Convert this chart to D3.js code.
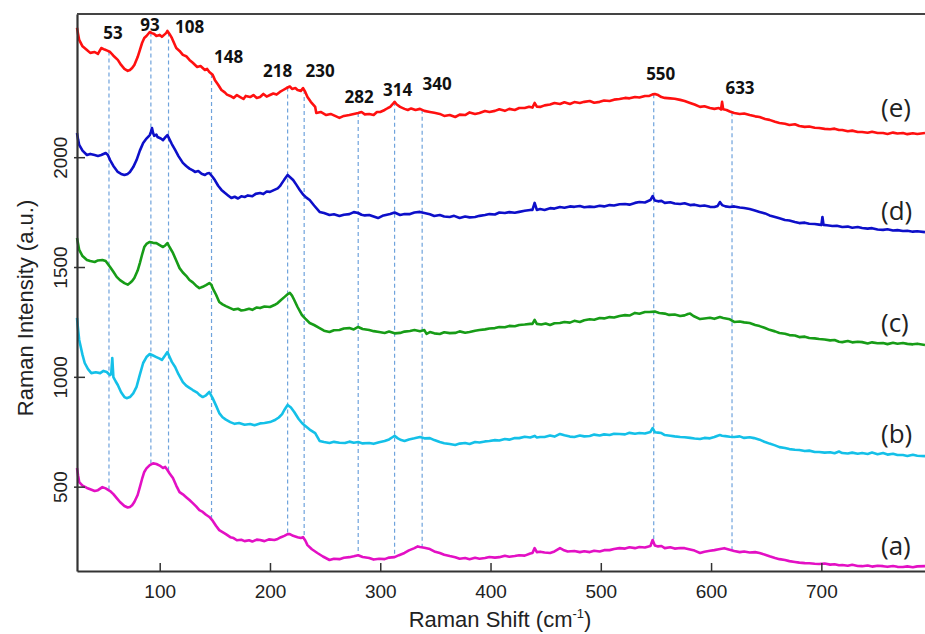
<!DOCTYPE html>
<html>
<head>
<meta charset="utf-8">
<script src="https://cdn.jsdelivr.net/npm/d3@7"></script>
<style>
  body { margin: 0; background: #fff; }
  svg { display: block; }
</style>
</head>
<body>
<svg width="925" height="634"></svg>
<script>
// spectra: [Raman shift (cm-1), intensity (a.u.)]
const spectrumE = [[25,2589],[26,2560],[27,2534],[30,2505],[34,2488],[37,2475],[41,2479],[44,2470],[47,2497],[50,2490],[53,2484],[55,2479],[58,2462],[62,2443],[65,2420],[68,2402],[71,2393],[73,2397],[75,2406],[77,2420],[80,2456],[82,2488],[84,2520],[86,2543],[88,2552],[91,2570],[93,2565],[95,2561],[97,2552],[100,2557],[102,2548],[104,2557],[106,2566],[107,2575],[109,2560],[111,2543],[113,2520],[115,2497],[118,2484],[121,2466],[124,2460],[127,2443],[130,2430],[134,2411],[137,2415],[141,2397],[143,2402],[145,2388],[148,2375],[150,2352],[153,2330],[156,2306],[159,2295],[161,2285],[164,2279],[167,2270],[170,2283],[173,2274],[176,2265],[178,2279],[182,2274],[185,2283],[188,2270],[191,2274],[194,2288],[197,2276],[200,2283],[203,2290],[206,2285],[209,2297],[212,2306],[215,2315],[218,2322],[220,2311],[223,2315],[225,2306],[228,2302],[230,2315],[232,2297],[234,2274],[237,2252],[241,2229],[242,2201],[246,2206],[251,2192],[255,2197],[259,2188],[263,2179],[267,2188],[272,2192],[276,2197],[280,2201],[283,2206],[286,2195],[290,2197],[294,2192],[297,2206],[300,2206],[304,2215],[307,2224],[309,2229],[311,2240],[313,2252],[315,2240],[318,2229],[322,2220],[325,2215],[328,2222],[332,2215],[336,2220],[340,2211],[345,2206],[349,2202],[354,2197],[358,2188],[363,2192],[368,2183],[372,2194],[377,2192],[381,2204],[386,2197],[390,2201],[395,2210],[399,2206],[404,2211],[408,2218],[413,2211],[417,2220],[422,2215],[426,2224],[431,2224],[435,2230],[438,2226],[440,2247],[442,2230],[445,2229],[449,2236],[454,2240],[458,2247],[463,2242],[467,2250],[472,2242],[476,2251],[481,2247],[485,2252],[490,2256],[494,2248],[499,2252],[503,2258],[508,2256],[512,2262],[517,2265],[522,2270],[526,2268],[531,2274],[535,2272],[540,2279],[544,2279],[547,2286],[549,2288],[552,2283],[555,2274],[558,2270],[563,2268],[567,2266],[572,2261],[576,2256],[581,2247],[585,2240],[590,2229],[594,2232],[599,2224],[603,2220],[607,2224],[609,2217],[610,2252],[611,2218],[614,2215],[617,2208],[621,2201],[626,2197],[630,2199],[635,2192],[640,2186],[644,2183],[649,2174],[653,2170],[658,2161],[662,2156],[667,2152],[671,2147],[676,2150],[680,2142],[685,2138],[689,2140],[694,2134],[698,2133],[703,2129],[708,2127],[712,2130],[716,2124],[719,2124],[724,2118],[728,2121],[733,2115],[737,2115],[742,2111],[746,2116],[751,2110],[756,2110],[760,2106],[765,2112],[769,2108],[774,2110],[778,2105],[783,2109],[787,2106],[794,2110]];

const spectrumD = [[25,2110],[26,2080],[27,2056],[30,2030],[34,2010],[37,2015],[41,2010],[44,2006],[47,2010],[51,2019],[53,2010],[55,1987],[58,1960],[62,1933],[65,1924],[68,1919],[71,1924],[73,1933],[76,1955],[79,1987],[82,2030],[85,2065],[88,2085],[91,2101],[92,2115],[93,2133],[94,2110],[95,2097],[97,2103],[98,2092],[101,2085],[103,2078],[105,2090],[107,2101],[109,2080],[111,2060],[114,2033],[117,2005],[121,1974],[124,1960],[127,1948],[130,1940],[132,1933],[135,1937],[138,1925],[141,1919],[143,1926],[145,1928],[148,1910],[150,1896],[153,1870],[156,1851],[159,1838],[162,1826],[165,1814],[168,1820],[171,1812],[174,1822],[177,1819],[180,1826],[184,1822],[187,1833],[191,1837],[194,1832],[197,1844],[200,1842],[204,1851],[207,1858],[209,1868],[211,1883],[213,1898],[216,1919],[218,1910],[221,1896],[224,1874],[227,1851],[230,1830],[233,1816],[236,1805],[240,1780],[245,1751],[249,1746],[254,1737],[258,1740],[263,1732],[267,1738],[272,1741],[276,1750],[280,1746],[283,1738],[286,1735],[290,1737],[294,1730],[298,1723],[302,1733],[306,1738],[309,1741],[313,1748],[318,1737],[322,1741],[327,1741],[331,1748],[336,1751],[340,1746],[345,1740],[349,1732],[354,1737],[358,1730],[363,1728],[367,1733],[372,1723],[377,1730],[381,1726],[386,1728],[390,1733],[395,1737],[399,1741],[404,1739],[408,1748],[413,1746],[417,1750],[422,1747],[426,1751],[431,1756],[436,1760],[438,1760],[440,1792],[442,1760],[445,1764],[449,1760],[454,1768],[458,1766],[463,1773],[467,1770],[472,1776],[476,1774],[481,1778],[485,1772],[490,1775],[494,1773],[499,1779],[503,1776],[508,1782],[512,1780],[517,1786],[522,1787],[526,1784],[531,1792],[535,1796],[540,1794],[545,1805],[547,1823],[549,1803],[552,1799],[555,1801],[558,1792],[563,1795],[567,1789],[572,1787],[576,1790],[581,1782],[585,1784],[590,1778],[594,1780],[599,1774],[603,1773],[606,1778],[608,1796],[610,1782],[613,1776],[617,1773],[621,1776],[626,1771],[630,1769],[635,1764],[639,1758],[644,1751],[649,1744],[653,1735],[658,1728],[662,1722],[667,1714],[671,1712],[676,1705],[680,1700],[685,1702],[689,1697],[694,1696],[698,1693],[700,1691],[701,1728],[702,1692],[705,1690],[710,1687],[714,1688],[719,1682],[724,1684],[728,1679],[733,1682],[737,1678],[742,1675],[746,1677],[751,1671],[756,1669],[760,1672],[765,1666],[769,1668],[774,1664],[778,1665],[783,1661],[787,1663],[794,1659]];

const spectrumC = [[25,1632],[26,1605],[27,1578],[30,1550],[34,1532],[37,1527],[41,1523],[44,1530],[48,1532],[51,1527],[55,1500],[58,1478],[61,1455],[64,1440],[68,1427],[71,1420],[73,1427],[75,1436],[77,1450],[80,1484],[82,1518],[84,1556],[86,1591],[88,1605],[91,1614],[94,1610],[97,1609],[100,1600],[103,1591],[105,1598],[107,1609],[109,1590],[112,1564],[115,1530],[118,1495],[121,1475],[124,1460],[127,1441],[130,1430],[133,1415],[136,1404],[139,1410],[142,1418],[145,1427],[147,1418],[148,1404],[151,1375],[154,1341],[157,1330],[160,1322],[164,1313],[167,1306],[171,1310],[174,1302],[177,1304],[181,1310],[184,1305],[188,1316],[191,1313],[195,1320],[200,1318],[204,1327],[207,1336],[210,1350],[213,1363],[216,1376],[218,1382],[220,1370],[222,1350],[225,1318],[229,1281],[232,1265],[236,1245],[240,1236],[245,1222],[249,1210],[254,1204],[258,1212],[263,1213],[267,1220],[272,1222],[276,1216],[280,1227],[284,1218],[290,1213],[294,1208],[299,1204],[304,1200],[308,1206],[313,1198],[318,1200],[322,1206],[327,1209],[331,1213],[336,1208],[340,1213],[342,1196],[345,1204],[349,1198],[354,1195],[358,1203],[363,1199],[368,1200],[372,1207],[377,1201],[381,1204],[386,1210],[390,1213],[395,1216],[399,1220],[404,1222],[408,1227],[413,1226],[417,1232],[422,1230],[426,1236],[431,1238],[436,1241],[438,1241],[440,1259],[442,1241],[446,1238],[450,1243],[454,1236],[458,1244],[463,1245],[467,1250],[472,1247],[476,1255],[481,1250],[485,1258],[490,1262],[494,1260],[499,1268],[503,1266],[508,1272],[512,1270],[517,1277],[522,1281],[526,1279],[531,1291],[535,1287],[540,1295],[544,1295],[549,1297],[553,1291],[558,1288],[562,1282],[567,1284],[572,1277],[576,1280],[579,1286],[581,1288],[584,1277],[590,1263],[594,1266],[599,1269],[603,1264],[608,1272],[611,1268],[617,1262],[621,1250],[626,1252],[630,1248],[635,1245],[640,1236],[644,1231],[649,1222],[653,1214],[658,1207],[662,1200],[667,1196],[671,1190],[676,1188],[680,1181],[685,1183],[689,1177],[694,1175],[698,1172],[703,1170],[708,1166],[712,1168],[716,1160],[719,1158],[724,1163],[728,1157],[733,1160],[737,1158],[742,1152],[746,1157],[751,1153],[756,1154],[760,1149],[765,1155],[769,1151],[774,1154],[778,1150],[783,1148],[787,1151],[794,1145]];

const spectrumB = [[25,1268],[26,1215],[27,1168],[30,1100],[32,1063],[35,1035],[38,1017],[42,1021],[46,1017],[49,1027],[52,1022],[54,1012],[55,1008],[56,1013],[57,1086],[58,999],[60,980],[62,963],[65,930],[68,908],[70,903],[73,908],[76,925],[79,954],[82,1010],[85,1063],[88,1090],[91,1104],[94,1097],[97,1090],[100,1083],[102,1077],[105,1098],[107,1113],[109,1090],[111,1068],[114,1045],[117,1012],[121,976],[124,960],[127,950],[130,940],[134,928],[136,918],[139,908],[142,916],[145,931],[147,912],[148,903],[151,870],[154,835],[157,816],[160,805],[164,794],[168,786],[172,790],[177,782],[182,785],[186,780],[191,788],[195,790],[200,794],[204,802],[208,815],[211,830],[213,849],[216,872],[219,860],[222,840],[226,808],[229,790],[231,781],[236,760],[241,744],[245,708],[249,703],[254,699],[258,704],[263,700],[268,699],[272,705],[276,700],[280,703],[284,697],[290,699],[294,695],[299,702],[304,708],[308,715],[311,725],[313,731],[316,720],[319,712],[322,708],[326,715],[331,720],[336,726],[340,720],[345,721],[349,712],[354,703],[358,698],[363,694],[368,690],[372,696],[377,699],[381,694],[386,703],[390,701],[395,706],[399,708],[404,712],[408,710],[413,717],[417,714],[422,721],[426,721],[431,727],[436,724],[440,731],[442,724],[445,726],[449,726],[454,733],[458,728],[463,740],[467,734],[472,728],[476,726],[481,733],[485,729],[490,731],[494,737],[499,733],[503,738],[508,735],[512,741],[517,740],[522,738],[526,745],[531,741],[535,744],[540,742],[545,749],[547,767],[549,748],[552,746],[555,744],[558,735],[563,732],[567,729],[572,726],[576,725],[581,722],[585,719],[590,717],[594,722],[599,720],[603,726],[606,732],[608,735],[610,732],[613,730],[617,727],[621,726],[626,729],[630,722],[635,725],[639,721],[644,714],[649,703],[653,696],[658,688],[662,680],[667,676],[671,671],[676,668],[680,667],[685,662],[689,664],[694,658],[698,658],[703,655],[708,657],[712,652],[716,660],[719,653],[724,651],[728,655],[733,650],[737,653],[742,649],[746,655],[751,648],[756,653],[760,646],[765,650],[769,644],[774,644],[778,640],[783,645],[787,641],[794,639]];

const spectrumA = [[25,585],[26,550],[27,521],[30,505],[34,494],[37,488],[41,480],[44,484],[48,498],[51,492],[55,480],[58,466],[61,448],[64,430],[68,412],[71,405],[73,407],[75,415],[77,430],[80,462],[82,498],[84,535],[86,567],[88,583],[91,598],[94,606],[97,603],[100,596],[103,585],[105,590],[107,576],[109,560],[112,539],[115,505],[118,475],[121,465],[124,452],[127,439],[130,425],[133,410],[136,393],[139,385],[142,372],[145,362],[148,345],[151,322],[154,302],[157,293],[160,284],[164,270],[167,266],[170,256],[174,258],[177,252],[181,256],[184,250],[188,259],[191,257],[195,252],[199,260],[204,257],[207,262],[210,270],[213,276],[216,284],[218,284],[221,276],[225,270],[228,266],[230,270],[232,255],[234,234],[238,215],[243,198],[248,182],[254,166],[258,172],[263,170],[267,176],[272,179],[276,183],[280,188],[284,180],[290,175],[294,168],[299,172],[304,170],[308,177],[313,179],[317,188],[322,198],[326,210],[331,220],[334,228],[336,225],[340,222],[345,216],[349,205],[354,198],[358,190],[363,184],[368,179],[372,172],[377,175],[381,170],[386,176],[390,172],[395,175],[399,180],[404,177],[408,179],[413,185],[417,181],[422,184],[426,188],[431,186],[436,196],[438,198],[440,220],[442,202],[445,204],[449,200],[454,198],[458,205],[463,220],[466,212],[470,205],[476,207],[481,202],[485,206],[490,202],[494,208],[499,205],[503,211],[508,211],[512,216],[517,220],[522,218],[526,224],[531,220],[535,225],[540,223],[545,230],[547,257],[549,232],[552,228],[555,230],[558,220],[563,224],[567,218],[572,221],[576,220],[581,214],[585,209],[590,198],[594,204],[599,208],[603,211],[607,215],[612,220],[616,214],[621,207],[626,202],[630,205],[635,200],[640,202],[644,198],[649,190],[653,183],[658,175],[662,170],[667,166],[671,161],[676,157],[680,154],[685,152],[689,151],[694,149],[698,148],[703,150],[708,145],[712,147],[716,142],[719,143],[724,140],[728,144],[733,139],[737,138],[742,141],[746,136],[751,140],[756,138],[760,135],[765,139],[769,135],[774,134],[778,137],[783,133],[787,137],[794,138]];

const seriesNames = ['(a)', '(b)', '(c)', '(d)', '(e)'];
const peakPositions = [54, 92, 108, 147, 216, 231, 280, 313, 338, 548, 619];
const peakLabels = ['53', '93', '108', '148', '218', '230', '282', '314', '340', '550', '633'];
const xTicks = [100, 200, 300, 400, 500, 600, 700];
const yTicks = [500, 1000, 1500, 2000];

const spectra = [spectrumA, spectrumB, spectrumC, spectrumD, spectrumE];
const colors = ['#e310c4', '#14c0e8', '#179c17', '#0d0fc9', '#ff1010'];
// baseline of each (x) label, and label nudges for the peak numbers
const nameY = [555, 443, 332, 220, 117];
const peakLabelLayout = [[4, 39], [-1, 31], [21, 33], [17, 63], [-10, 77], [16, 77], [1, 103], [3, 96], [15, 90], [7, 80], [8, 94]];

const svg = d3.select('svg');
const plotLeft = 77, plotRight = 925, plotTop = 14, plotBottom = 571;

const x = d3.scaleLinear().domain([25, 794]).range([plotLeft, plotRight]);
const y = d3.scaleLinear().domain([116, 2652]).range([plotBottom, plotTop]);

function valueAt(data, w) {
  const i = d3.bisector(d => d[0]).left(data, w);
  if (i <= 0) return data[0][1];
  if (i >= data.length) return data[data.length - 1][1];
  const a = data[i - 1], b = data[i];
  return a[1] + (b[1] - a[1]) * (w - a[0]) / (b[0] - a[0]);
}

// dashed guides from top spectrum down to bottom one
svg.append('g')
  .selectAll('line')
  .data(peakPositions)
  .enter()
  .append('line')
  .attr('x1', d => x(d))
  .attr('x2', d => x(d))
  .attr('y1', d => y(valueAt(spectrumE, d)))
  .attr('y2', d => y(valueAt(spectrumA, d)))
  .attr('stroke', '#6fa3dc')
  .attr('stroke-width', 1.2)
  .attr('stroke-dasharray', '4,3');

const line = d3.line()
  .x(d => x(d[0]))
  .y(d => y(d[1]));

svg.append('g')
  .selectAll('path')
  .data(spectra)
  .enter()
  .append('path')
  .attr('d', line)
  .attr('fill', 'none')
  .attr('stroke', (d, i) => colors[i])
  .attr('stroke-width', 2.6)
  .attr('stroke-linejoin', 'round');

// axes
const xAxis = svg.append('g')
  .attr('transform', `translate(0, ${plotBottom})`)
  .call(d3.axisBottom(x).tickValues(xTicks).tickSize(-8).tickSizeOuter(0).tickPadding(14));
xAxis.select('.domain').attr('stroke', '#333').attr('stroke-width', 2.2);
xAxis.selectAll('.tick line').attr('stroke', '#333').attr('stroke-width', 1.5);
xAxis.selectAll('.tick text')
  .attr('font-family', 'Liberation Sans, Arial, sans-serif')
  .attr('font-size', 19)
  .attr('fill', '#222');

const yAxis = svg.append('g')
  .attr('transform', `translate(${plotLeft}, 0)`)
  .call(d3.axisLeft(y).tickValues(yTicks).tickFormat(d3.format('d')).tickSize(-8).tickSizeOuter(0));
yAxis.select('.domain').attr('stroke', '#333').attr('stroke-width', 2.2);
yAxis.selectAll('.tick line').attr('x1', -3).attr('stroke', '#333').attr('stroke-width', 1.5);
yAxis.selectAll('.tick text')
  .attr('transform', 'rotate(-90)')
  .attr('x', 0)
  .attr('y', -10)
  .attr('dy', 0)
  .attr('text-anchor', 'middle')
  .attr('font-family', 'Liberation Sans, Arial, sans-serif')
  .attr('font-size', 19)
  .attr('fill', '#222');

// top frame
svg.append('line')
  .attr('x1', plotLeft).attr('x2', plotRight)
  .attr('y1', plotTop).attr('y2', plotTop)
  .attr('stroke', '#444')
  .attr('stroke-width', 2.2);

// axis titles
const xTitle = svg.append('text')
  .attr('x', 500)
  .attr('y', 627)
  .attr('text-anchor', 'middle')
  .attr('font-family', 'Liberation Sans, Arial, sans-serif')
  .attr('font-size', 22)
  .attr('fill', '#222')
  .text('Raman Shift (cm');
xTitle.append('tspan').attr('font-size', 13).attr('dy', -9).text('-1');
xTitle.append('tspan').attr('dy', 9).text(')');

svg.append('text')
  .attr('transform', 'translate(33, 308) rotate(-90)')
  .attr('text-anchor', 'middle')
  .attr('font-family', 'Liberation Sans, Arial, sans-serif')
  .attr('font-size', 22)
  .attr('fill', '#222')
  .text('Raman Intensity (a.u.)');

// peak numbers
svg.append('g')
  .selectAll('text')
  .data(peakLabels)
  .enter()
  .append('text')
  .attr('x', (d, i) => x(peakPositions[i]) + peakLabelLayout[i][0])
  .attr('y', (d, i) => peakLabelLayout[i][1])
  .attr('text-anchor', 'middle')
  .attr('font-family', 'Open Sans, sans-serif')
  .attr('font-weight', 'bold')
  .attr('font-size', 17)
  .attr('fill', '#111')
  .text(d => d);

// series names
svg.append('g')
  .selectAll('text')
  .data(seriesNames)
  .enter()
  .append('text')
  .attr('x', 881)
  .attr('y', (d, i) => nameY[i])
  .attr('font-family', 'Open Sans, sans-serif')
  .attr('font-size', 26)
  .attr('fill', '#222')
  .text(d => d);
</script>
</body>
</html>
